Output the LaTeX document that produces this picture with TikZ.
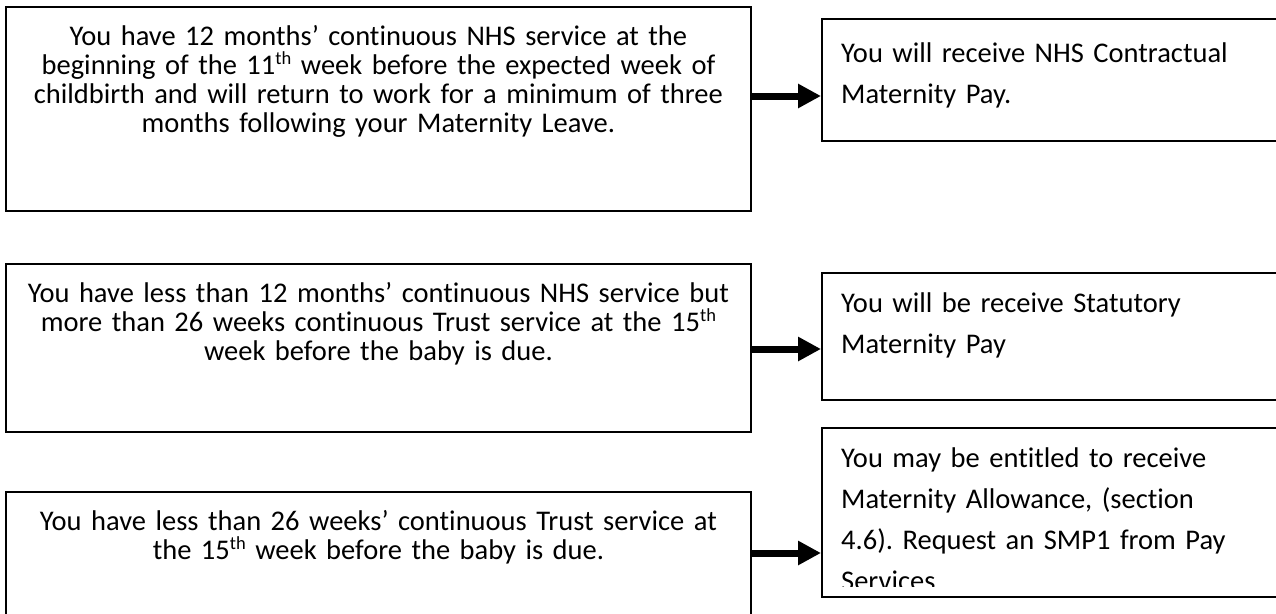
\documentclass[tikz,border=0pt]{standalone}
\usepackage{fontspec}
\setmainfont{Carlito}[Ligatures={NoCommon}]
\usetikzlibrary{arrows.meta,calc}
\newcommand\ordsup[1]{\raisebox{0.33em}{\fontsize{18.5}{18.5}\selectfont #1}}
\tikzset{
    %Define style for boxes
    condbox/.style={
           rectangle,
           draw=black, line width=1.8pt,
           fill=white,
           inner sep=0pt},
    paybox/.style={condbox},
    % Define style for texts
    condtext/.style={
           inner sep=0pt,
           text width=730pt,
           align=center,
           font=\fontsize{28.5}{29}\selectfont\frenchspacing},
    paytext/.style={
           inner sep=0pt,
           text width=440pt,
           align=left,
           font=\fontsize{28.5}{41}\selectfont\frenchspacing},
    % Define arrow style
    payarrow/.style={
           -{Triangle[length=23pt,width=23pt]},
           line width=7pt}
}

\begin{document}
\begin{tikzpicture}[x=1pt,y=-1pt]
 \useasboundingbox (0,0) rectangle (1276,613);
 \clip (0,0) rectangle (1276,613);

 %Conditions
 \node[condbox,minimum width=745pt,minimum height=204pt,anchor=north west] (cond1) at (5,6) {};
 \node[condbox,minimum width=745pt,minimum height=168pt,anchor=north west] (cond2) at (5,263) {};
 \node[condbox,minimum width=745pt,minimum height=160pt,anchor=north west] (cond3) at (5,491) {};

 \node[condtext,anchor=base] (cond1txt) at ($(cond1.north)+(0,39)$)
   {You have 12 months’ continuous NHS service at the\\
    beginning of the 11\ordsup{th} week before the expected week of\\
    childbirth and will return to work for a minimum of three\\
    months following your Maternity Leave.};
 \node[condtext,anchor=base] (cond2txt) at ($(cond2.north)+(0,39)$)
   {You have less than 12 months’ continuous NHS service but\\
    more than 26 weeks continuous Trust service at the 15\ordsup{th}\\
    week before the baby is due.};
 \node[condtext,anchor=base] (cond3txt) at ($(cond3.north)+(0,39)$)
   {You have less than 26 weeks’ continuous Trust service at\\
    the 15\ordsup{th} week before the baby is due.};

 %Outcomes
 \node[paybox,minimum width=470pt,minimum height=122pt,anchor=north west] (pay1) at (821,18) {};
 \node[paybox,minimum width=470pt,minimum height=127pt,anchor=north west] (pay2) at (821,272) {};
 \node[paybox,minimum width=470pt,minimum height=169pt,anchor=north west] (pay3) at (821,427) {};

 \node[paytext,anchor=base west] (pay1txt) at ($(pay1.north west)+(20,44)$)
   {You will receive NHS Contractual\\
    Maternity Pay.};
 \node[paytext,anchor=base west] (pay2txt) at ($(pay2.north west)+(20,40)$)
   {You will be receive Statutory\\
    Maternity Pay};
 \begin{scope}
  \clip (pay3.north west) rectangle ($(pay3.south east)+(0,-11)$);
  \node[paytext,anchor=base west] (pay3txt) at ($(pay3.north west)+(20,40)$)
    {You may be entitled to receive\\
     Maternity Allowance, (section\\
     4.6). Request an SMP1 from Pay\\
     Services};
 \end{scope}

 %Arrows
 \coordinate (a1) at (0,96);
 \coordinate (a2) at (0,349);
 \coordinate (a3) at (0,553);
 \draw[payarrow] (cond1.east |- a1) -- (pay1.west |- a1);
 \draw[payarrow] (cond2.east |- a2) -- (pay2.west |- a2);
 \draw[payarrow] (cond3.east |- a3) -- (pay3.west |- a3);
\end{tikzpicture}
\end{document}
